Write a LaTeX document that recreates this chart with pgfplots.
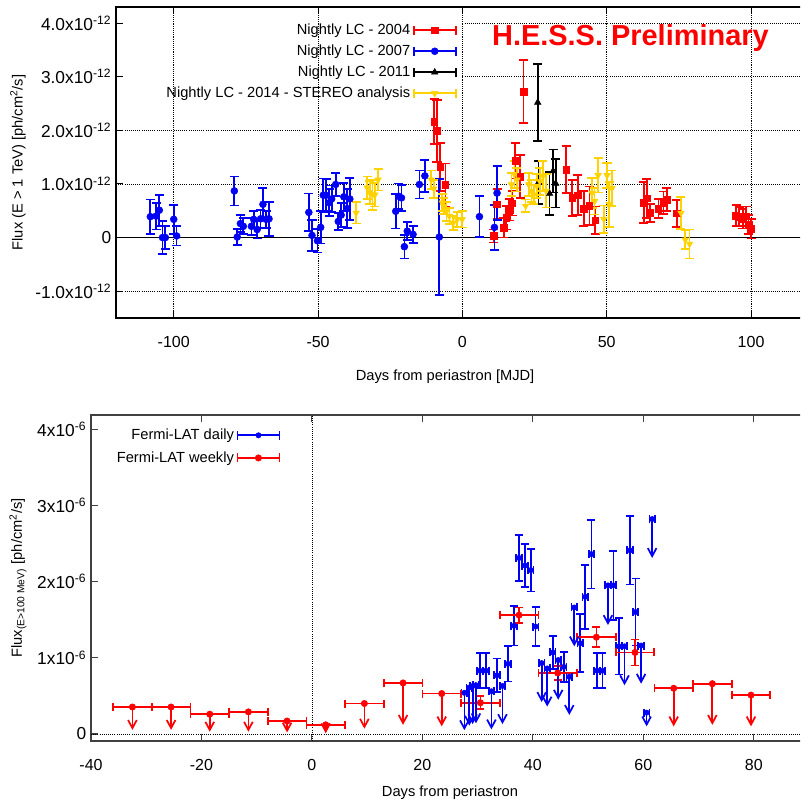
\documentclass[border=0pt]{standalone}
\usepackage{fontspec}
\setmainfont{Liberation Sans}
\usepackage{pgfplots}
\usepackage{pgfplotstable}
\pgfplotsset{compat=1.18}
\usetikzlibrary{arrows.meta}

\definecolor{cred}{RGB}{255,0,0}
\definecolor{cblue}{RGB}{0,0,245}
\definecolor{cgold}{RGB}{255,210,0}

\pgfdeclareplotmark{dtri*}{\pgftransformrotate{180}\pgfuseplotmark{triangle*}}

% ---- H.E.S.S. nightly light curves (flux in 1e-12 ph/cm2/s) ----
\pgfplotstableread{
x y e
-9.8 2.16 0.42
-8.8 1.99 0.58
-7.7 1.32 0.45
-5.9 0.98 0.40
10.8 0.03 0.12
12.0 0.62 0.28
14.3 0.18 0.18
15.2 0.37 0.22
16.4 0.52 0.20
17.2 0.64 0.23
18.3 1.43 0.33
20.0 1.14 0.40
21.2 2.72 0.59
36.0 1.27 0.44
38.0 0.74 0.34
40.0 0.79 0.37
42.0 0.54 0.33
44.0 0.59 0.36
46.0 0.32 0.26
62.8 0.65 0.38
63.9 0.73 0.36
65.1 0.46 0.17
67.9 0.54 0.18
69.7 0.65 0.21
70.8 0.71 0.21
74.3 0.45 0.25
94.8 0.41 0.20
95.9 0.39 0.18
97.1 0.35 0.18
98.3 0.40 0.18
99.1 0.24 0.18
100.0 0.16 0.18
}\hessA

\pgfplotstableread{
x y e
-108.1 0.39 0.32
-106.1 0.40 0.25
-105.0 0.51 0.29
-103.9 0.00 0.31
-102.9 0.00 0.22
-100.0 0.34 0.27
-99.0 0.03 0.18
-79.0 0.87 0.27
-78.0 0.01 0.15
-76.9 0.26 0.16
-75.9 0.21 0.15
-73.1 0.21 0.16
-72.3 0.34 0.16
-71.1 0.15 0.17
-69.9 0.35 0.17
-69.1 0.62 0.30
-68.0 0.34 0.16
-67.0 0.35 0.32
-53.2 0.47 0.35
-52.1 0.04 0.29
-50.2 -0.06 0.22
-49.1 0.19 0.30
-48.2 0.79 0.31
-47.2 0.79 0.30
-46.1 0.65 0.25
-45.3 0.72 0.25
-43.9 0.99 0.22
-43.0 0.30 0.16
-42.0 0.42 0.22
-41.1 0.76 0.26
-39.9 0.54 0.36
-39.0 0.72 0.39
-23.1 0.49 0.32
-22.1 0.77 0.24
-21.1 0.74 0.24
-20.1 -0.17 0.22
-19.1 0.12 0.17
-17.1 0.06 0.16
-14.9 0.99 0.26
-13.0 1.15 0.30
-8.0 0.01 1.08
5.9 0.39 0.38
11.1 0.19 0.42
12.0 0.83 0.50
}\hessB

\pgfplotstableread{
x y e
26.1 2.52 0.72
26.4 1.03 0.40
30.2 0.82 0.40
31.4 1.24 0.40
32.3 1.01 0.45
}\hessC

\pgfplotstableread{
x y e
-36.8 0.46 0.20
-33.0 0.93 0.21
-32.1 0.84 0.22
-31.1 0.80 0.28
-30.3 0.80 0.22
-29.2 1.08 0.20
-10.8 1.08 0.17
-9.9 0.91 0.17
-7.0 0.65 0.16
-6.5 0.59 0.15
-5.5 0.49 0.18
-4.5 0.40 0.15
-3.2 0.27 0.13
-1.8 0.34 0.14
-0.1 0.34 0.15
17.0 0.99 0.22
18.0 1.18 0.25
18.9 1.08 0.22
21.9 0.59 0.12
23.0 0.99 0.21
23.9 0.87 0.20
24.7 0.80 0.18
25.8 0.96 0.22
26.8 1.05 0.25
27.9 1.15 0.28
29.0 0.87 0.31
44.9 0.83 0.28
45.8 0.68 0.25
47.0 1.16 0.32
49.0 0.34 0.26
50.1 1.16 0.23
50.9 0.62 0.42
51.8 0.92 0.33
75.7 0.46 0.30
77.2 -0.04 0.17
78.7 -0.12 0.27
}\hessD

% ---- Fermi-LAT (flux in 1e-6 ph/cm2/s) ----
\pgfplotstableread{
x y e
30.5 0.41 0.085
37.5 1.56 0.10
44.5 0.80 0.09
51.5 1.27 0.13
58.5 1.07 0.17
}\weekdet

\pgfplotstableread{
x y v
-32.5 0.354 -0.30
-25.5 0.354 -0.30
-18.5 0.26 -0.23
-11.5 0.29 -0.26
-4.5 0.17 -0.15
2.5 0.12 -0.11
9.5 0.40 -0.33
16.5 0.67 -0.55
23.5 0.53 -0.43
65.5 0.60 -0.50
72.5 0.66 -0.54
79.5 0.51 -0.41
}\weekul

\pgfplotstableread{
x y e
30.4 0.83 0.23
31.5 0.83 0.23
33.5 0.77 0.22
35.5 0.92 0.23
36.6 1.42 0.26
37.5 2.31 0.30
38.6 2.21 0.28
39.6 2.15 0.28
40.5 1.41 0.26
43.6 1.07 0.22
45.6 0.88 0.20
48.6 1.19 0.38
49.5 1.80 0.42
50.6 2.36 0.45
51.6 0.83 0.23
52.6 0.83 0.23
54.6 1.95 0.45
55.6 1.15 0.37
57.6 2.41 0.45
58.6 1.60 0.44
}\daydet

\pgfplotstableread{
x y v
27.6 0.54 -0.49
28.5 0.61 -0.50
29.1 0.63 -0.50
29.7 0.64 -0.50
32.5 0.56 -0.50
34.5 0.63 -0.50
41.6 0.93 -0.51
42.6 0.86 -0.50
44.6 0.97 -0.52
46.6 0.75 -0.50
47.5 1.66 -0.51
53.6 1.95 -0.52
56.6 1.15 -0.51
59.6 1.16 -0.50
60.6 0.28 -0.18
61.6 2.82 -0.51
}\dayul

\newcommand{\tsup}[1]{\textsuperscript{#1}}

\pgfplotsset{
  lcimg/.style={legend image code/.code={
    \draw[##1, mark=none, line width=1.3pt] (0pt,0pt) -- (31.5pt,0pt)
      (0pt,-3.4pt) -- (0pt,3.4pt) (31.5pt,-3.4pt) -- (31.5pt,3.4pt);
    \path[##1] plot coordinates {(15.75pt,0pt)};
  }},
  ebar/.style={error bars/.cd, y dir=both, y explicit,
    error bar style={line width=1.3pt},
    error mark options={rotate=90, mark size=3.4pt, line width=1.3pt}},
}

\begin{document}
\begin{tikzpicture}
\path[use as bounding box] (0,0) rectangle (600pt,603.75pt);
\clip (0,0) rectangle (600pt,603.75pt);

% ================= top panel =================
\begin{axis}[
  at={(87pt,365.25pt)}, anchor=south west,
  scale only axis, width=519.6pt, height=233.25pt,
  xmin=-120, xmax=120, ymin=-1.5, ymax=4.3,
  axis line style={line width=1.1pt},
  tick style={line width=0.8pt, black},
  major tick length=5pt, tick align=inside,
  xtick={-100,-50,0,50,100}, xticklabels={-100,-50,0,50,100},
  ytick={-1,0,1,2,3,4},
  yticklabels={-1.0x10\tsup{-12},0,1.0x10\tsup{-12},2.0x10\tsup{-12},3.0x10\tsup{-12},4.0x10\tsup{-12}},
  xmajorgrids, grid style={densely dotted, black, line width=0.6pt},
  x tick label style={font=\fontsize{12}{14}\selectfont, yshift=-10pt},
  y tick label style={font=\fontsize{13}{15}\selectfont},
  label style={font=\fontsize{11}{13}\selectfont},
  xlabel={Days from periastron [MJD]},
  ylabel={Flux (E > 1 TeV) [ph/cm\textsuperscript{2}/s]},
  x label style={at={(axis description cs:0.475,-0.19)}, anchor=center},
  y label style={at={(axis description cs:-0.1415,0.5)}, anchor=center},
  legend style={at={(0.492,0.955)}, anchor=north east, draw=none, fill=none,
    font=\fontsize{11}{13}\selectfont, row sep=2.3pt, inner sep=0pt,
    /tikz/every even column/.append style={column sep=4.5pt}},
  legend cell align=right, legend plot pos=right,
  lcimg,
]
\draw[densely dotted, line width=0.6pt] (axis cs:-120,-1) -- (axis cs:120,-1)
  (axis cs:-120,1) -- (axis cs:120,1) (axis cs:-120,2) -- (axis cs:120,2)
  (axis cs:0,3) -- (axis cs:120,3) (axis cs:0,4) -- (axis cs:120,4);
\draw[line width=1.1pt] (axis cs:-120,0) -- (axis cs:120,0);

\addplot[cred, only marks, mark=square*, mark size=2.5pt, ebar] table[x=x,y=y,y error=e] {\hessA};
\addlegendentry{Nightly LC - 2004}
\addplot[cblue, only marks, mark=*, mark size=2.6pt, ebar] table[x=x,y=y,y error=e] {\hessB};
\addlegendentry{Nightly LC - 2007}
\addplot[black, only marks, mark=triangle*, mark size=2.8pt, ebar] table[x=x,y=y,y error=e] {\hessC};
\addlegendentry{Nightly LC - 2011}
\addplot[cgold, only marks, mark=dtri*, mark size=2.8pt, ebar] table[x=x,y=y,y error=e] {\hessD};
\addlegendentry{Nightly LC - 2014 - STEREO analysis}

\node[cred, font=\bfseries\fontsize{21.7}{26}\selectfont] at (axis cs:58.2,3.72) {H.E.S.S. Preliminary};
\end{axis}

% ================= bottom panel =================
\begin{axis}[
  at={(68.25pt,48pt)}, anchor=south west,
  scale only axis, width=538.5pt, height=244.5pt,
  xmin=-40, xmax=90, ymin=-0.092, ymax=4.186,
  axis line style={line width=1.1pt, black!75},
  tick style={line width=0.8pt, black!75},
  major tick length=5pt, tick align=inside,
  xtick={-40,-20,0,20,40,60,80}, xticklabels={-40,-20,0,20,40,60,80},
  ytick={0,1,2,3,4},
  yticklabels={0,1x10\tsup{-6},2x10\tsup{-6},3x10\tsup{-6},4x10\tsup{-6}},
  x tick label style={font=\fontsize{12}{14}\selectfont, yshift=-10pt},
  y tick label style={font=\fontsize{13}{15}\selectfont},
  label style={font=\fontsize{11}{13}\selectfont},
  xlabel={Days from periastron},
  ylabel={Flux\textsubscript{(E>100 MeV)} [ph/cm\textsuperscript{2}/s]},
  x label style={at={(axis description cs:0.5,-0.16)}, anchor=center},
  y label style={at={(axis description cs:-0.1017,0.5)}, anchor=center},
  legend style={at={(0.264,0.966)}, anchor=north east, draw=none, fill=none,
    font=\fontsize{11}{13}\selectfont, row sep=3.5pt, inner sep=0pt,
    /tikz/every even column/.append style={column sep=6pt}},
  legend cell align=right, legend plot pos=right,
  lcimg,
]
\draw[densely dotted, line width=0.6pt] (axis cs:0,-0.092) -- (axis cs:0,4.186)
  (axis cs:-40,0) -- (axis cs:90,0);

\addplot[cblue, only marks, mark=*, mark size=2pt,
  error bars/.cd, x dir=both, x fixed=0.5, y dir=both, y explicit,
  error bar style={line width=1.3pt},
  error mark options={rotate=90, mark size=3pt, line width=1.3pt}]
  table[x=x,y=y,y error=e] {\daydet};
\addlegendentry{Fermi-LAT daily}
\addplot[cred, only marks, mark=*, mark size=2.4pt,
  error bars/.cd, x dir=both, x fixed=3.5, y dir=both, y explicit,
  error bar style={line width=1.3pt},
  error mark options={rotate=90, mark size=3pt, line width=1.3pt}]
  table[x=x,y=y,y error=e] {\weekdet};
\addlegendentry{Fermi-LAT weekly}

\addplot[cblue, only marks, mark=*, mark size=2pt, forget plot,
  error bars/.cd, x dir=both, x fixed=0.5,
  error bar style={line width=1.3pt},
  error mark options={rotate=90, mark size=3pt, line width=1.3pt}]
  table[x=x,y=y] {\dayul};
\addplot[cblue, line width=1.3pt, mark=none, forget plot,
  quiver={u=0, v=\thisrow{v}}, -{Straight Barb[length=6pt, width=6.5pt]}]
  table[x=x,y=y] {\dayul};

\addplot[cred, only marks, mark=*, mark size=2.4pt, forget plot,
  error bars/.cd, x dir=both, x fixed=3.5,
  error bar style={line width=1.3pt},
  error mark options={rotate=90, mark size=3pt, line width=1.3pt}]
  table[x=x,y=y] {\weekul};
\addplot[cred, line width=1.3pt, mark=none, forget plot,
  quiver={u=0, v=\thisrow{v}}, -{Straight Barb[length=6pt, width=6.5pt]}]
  table[x=x,y=y] {\weekul};
\end{axis}
\end{tikzpicture}
\end{document}
